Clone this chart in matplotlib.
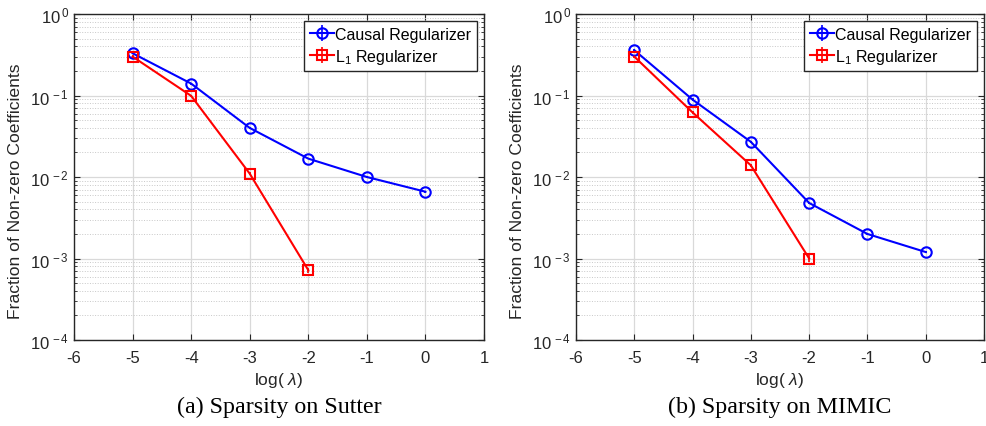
import matplotlib
matplotlib.use("Agg")
import matplotlib.pyplot as plt
from matplotlib.ticker import LogLocator, NullFormatter, FixedLocator, FuncFormatter
import numpy as np

plt.rcParams['font.family'] = ['Liberation Sans', 'DejaVu Sans']
plt.rcParams['mathtext.fontset'] = 'custom'
plt.rcParams['mathtext.rm'] = 'Liberation Sans'
plt.rcParams['mathtext.it'] = 'Liberation Sans:italic'
plt.rcParams['axes.unicode_minus'] = False

log_lambda_causal = [-5, -4, -3, -2, -1, 0]
log_lambda_l1 = [-5, -4, -3, -2]

sutter_causal = [0.33, 0.14, 0.040, 0.0168, 0.0100, 0.0066]
sutter_l1 = [0.30, 0.099, 0.011, 0.00072]
mimic_causal = [0.36, 0.089, 0.027, 0.0048, 0.0020, 0.0012]
mimic_l1 = [0.30, 0.062, 0.0139, 0.0010]

sutter_causal_err = [0.01, 0.004, 0.001, 0.0004, 0.0002, 0.0002]
sutter_l1_err = [0.01, 0.003, 0.0004, 0.00005]
mimic_causal_err = [0.01, 0.003, 0.0008, 0.0002, 0.00006, 0.00004]
mimic_l1_err = [0.01, 0.002, 0.0005, 0.0001]

titles = ["(a) Sparsity on Sutter", "(b) Sparsity on MIMIC"]
xticks = [-6, -5, -4, -3, -2, -1, 0, 1]


def logfmt(v, pos):
    e = int(round(np.log10(v)))
    return r'10$^{\,%d}$' % e


fig = plt.figure(figsize=(9.87, 4.27), dpi=100)
W, H = 987, 427
axes_px = [(74, 484), (576, 984)]
top_px, bot_px = 15, 341

data = [(sutter_causal, sutter_causal_err, sutter_l1, sutter_l1_err),
        (mimic_causal, mimic_causal_err, mimic_l1, mimic_l1_err)]

for i, (l, r) in enumerate(axes_px):
    ax = fig.add_axes([l / W, 1 - bot_px / H, (r - l) / W, (bot_px - top_px) / H])
    c, ce, s, se = data[i]
    ax.errorbar(log_lambda_causal, c, yerr=ce, color='#0000ff', marker='o', ms=7.5,
                mfc='none', mew=1.5, lw=1.5, capsize=0, elinewidth=1.2,
                label='Causal Regularizer', zorder=3)
    ax.errorbar(log_lambda_l1, s, yerr=se, color='#ff0000', marker='s', ms=6.5,
                mfc='none', mew=1.5, lw=1.5, capsize=0, elinewidth=1.2,
                label='L$_1$ Regularizer', zorder=3)
    ax.set_yscale('log')
    ax.set_xlim(-6, 1)
    ax.set_ylim(1e-4, 1)
    ax.xaxis.set_major_locator(FixedLocator(xticks))
    ax.yaxis.set_major_locator(LogLocator(base=10, numticks=10))
    ax.yaxis.set_major_formatter(FuncFormatter(logfmt))
    ax.yaxis.set_minor_locator(LogLocator(base=10, subs=range(2, 10), numticks=20))
    ax.yaxis.set_minor_formatter(NullFormatter())
    ax.grid(True, which='major', color='#d9d9d9', lw=0.9, ls='-')
    ax.grid(True, which='minor', axis='y', color='#c8c8c8', lw=0.7, ls=':')
    ax.set_axisbelow(True)
    ax.tick_params(which='both', direction='in', top=True, right=True,
                   labelsize=12, colors='#262626', length=4)
    ax.tick_params(axis='x', pad=7)
    ax.tick_params(which='minor', length=2)
    for sp in ax.spines.values():
        sp.set_color('#262626')
        sp.set_linewidth(1.0)
    ax.set_xlabel(r'log( $\lambda$)', fontsize=12.5, color='#262626', labelpad=4)
    ax.set_ylabel('Fraction of Non-zero Coefficients', fontsize=12.6, color='#262626')
    ax.yaxis.set_label_coords((23 - 74) / 410, (341 - 191) / 326)
    leg = ax.legend(loc='upper right', fontsize=11.5, frameon=True, fancybox=False,
                    edgecolor='#262626', framealpha=1, handlelength=1.5,
                    handletextpad=0.1, borderpad=0.35, labelspacing=0.3,
                    borderaxespad=0.45)
    leg.get_frame().set_linewidth(1.0)
    cx = (l + r) / 2 / W
    fig.text(cx, 1 - 407 / H, titles[i], ha='center', va='center',
             fontsize=17.3, family=['Liberation Serif', 'DejaVu Serif'])

fig.savefig('out.png', dpi=100)
